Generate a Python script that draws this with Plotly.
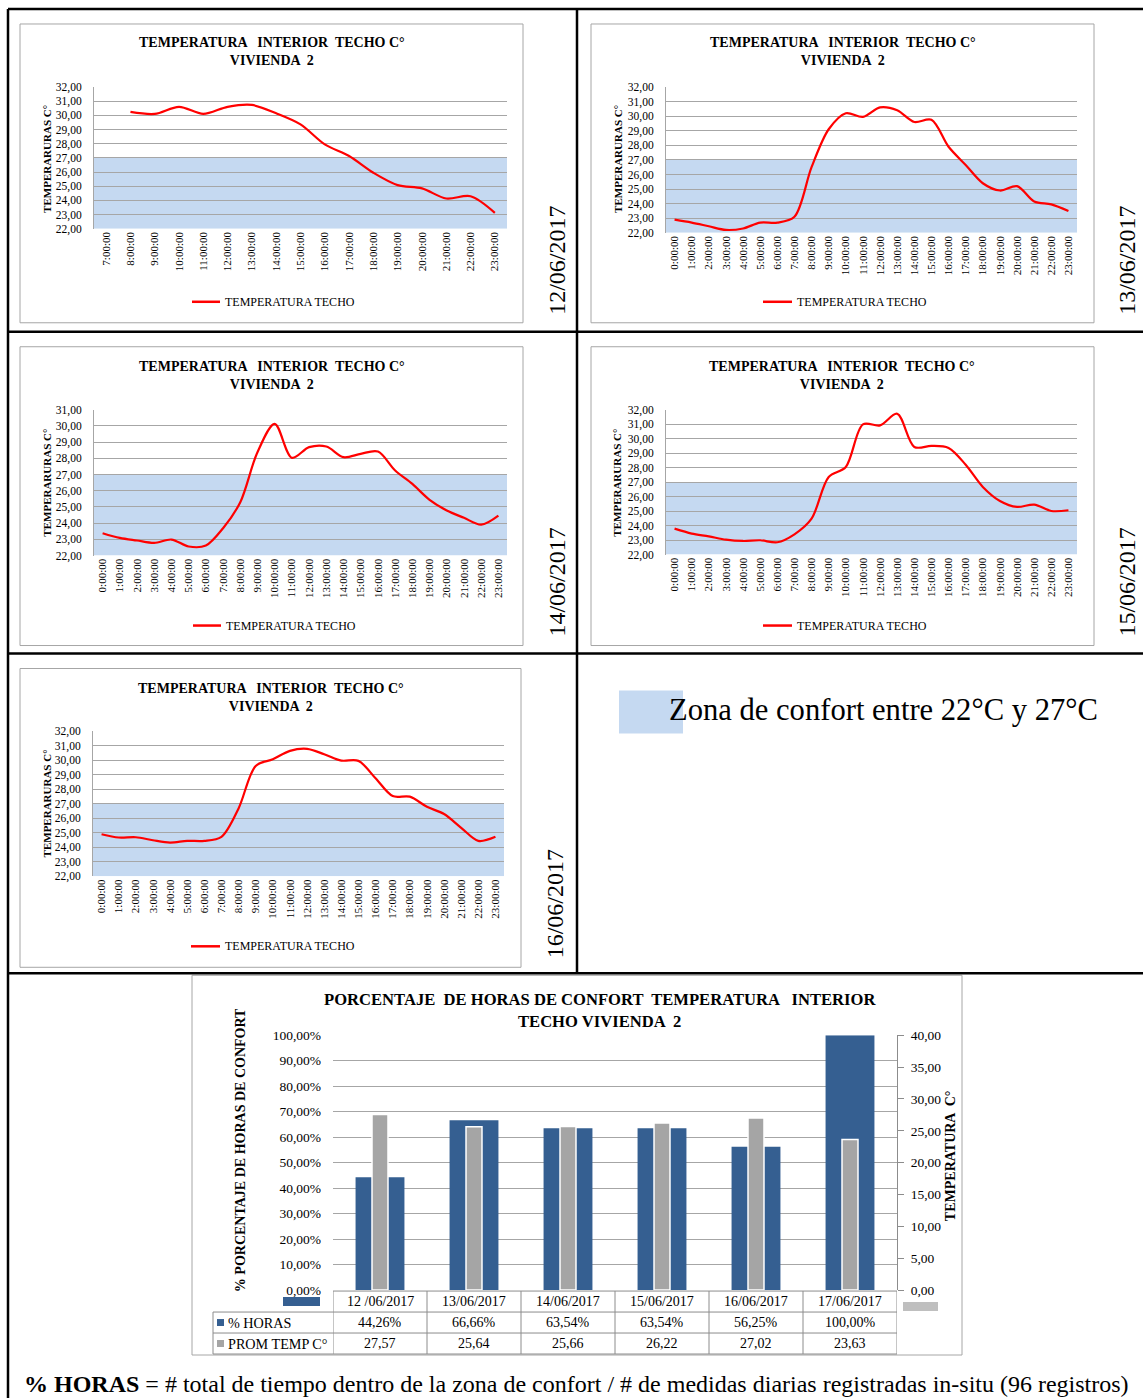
import plotly.graph_objects as go

W, H = 1143, 1398
FONT = "Liberation Serif"

# ---------------- data ----------------
HOURS_24 = ["0:00:00", "1:00:00", "2:00:00", "3:00:00", "4:00:00", "5:00:00",
            "6:00:00", "7:00:00", "8:00:00", "9:00:00", "10:00:00", "11:00:00",
            "12:00:00", "13:00:00", "14:00:00", "15:00:00", "16:00:00", "17:00:00",
            "18:00:00", "19:00:00", "20:00:00", "21:00:00", "22:00:00", "23:00:00"]
HOURS_D12 = ["7:00:00", "8:00:00", "9:00:00", "10:00:00", "11:00:00", "12:00:00",
             "13:00:00", "14:00:00", "15:00:00", "16:00:00", "17:00:00", "18:00:00",
             "19:00:00", "20:00:00", "21:00:00", "22:00:00", "23:00:00"]

TEMP_12 = [None, 30.24, 30.10, 30.60, 30.10, 30.60, 30.73, 30.14, 29.36, 27.95,
           27.13, 25.95, 25.08, 24.85, 24.14, 24.30, 23.13]
TEMP_13 = [22.90, 22.70, 22.45, 22.20, 22.30, 22.70, 22.70, 23.10, 26.50, 29.10,
           30.20, 29.95, 30.60, 30.40, 29.60, 29.75, 27.90, 26.65, 25.40, 24.90,
           25.20, 24.15, 23.95, 23.50]
TEMP_14 = [23.38, 23.09, 22.93, 22.78, 22.99, 22.56, 22.62, 23.69, 25.29, 28.38,
           30.13, 28.03, 28.69, 28.73, 28.07, 28.28, 28.42, 27.25, 26.42, 25.44,
           24.78, 24.33, 23.91, 24.47]
TEMP_15 = [23.79, 23.45, 23.26, 23.03, 22.94, 22.99, 22.85, 23.40, 24.48, 27.36,
           28.05, 30.99, 30.92, 31.72, 29.43, 29.50, 29.36, 28.20, 26.67, 25.70,
           25.29, 25.45, 25.01, 25.06]
TEMP_16 = [24.91, 24.68, 24.70, 24.49, 24.33, 24.45, 24.45, 24.73, 26.69, 29.62,
           30.08, 30.66, 30.80, 30.43, 29.99, 29.97, 28.77, 27.54, 27.50, 26.80,
           26.30, 25.35, 24.45, 24.73]

DATES = ["12/06/2017", "13/06/2017", "14/06/2017", "15/06/2017", "16/06/2017"]
COMFORT_LOW, COMFORT_HIGH = 22, 27

BAR_CATS = ["12 /06/2017", "13/06/2017", "14/06/2017", "15/06/2017", "16/06/2017", "17/06/2017"]
PCT_HORAS = [44.26, 66.66, 63.54, 63.54, 56.25, 100.00]
PROM_TEMP = [27.57, 25.64, 25.66, 26.22, 27.02, 23.63]

TITLE_LINE = "TEMPERATURA   INTERIOR  TECHO C°<br>VIVIENDA  2"
SERIES_NAME = "TEMPERATURA TECHO"
YTITLE = "TEMPERARURAS C°"

# ---------------- helpers ----------------
def px(x):
    return x / W


def py(y):
    # page pixel -> paper fraction (small vertical correction for the capture)
    return 1 - ((y - 6) / 0.99) / H


def sfx(i):
    return "" if i == 1 else str(i)


RED = "#ff0000"
ZONE = "#c5d9f1"
GRID = "#a6a6a6"
BOXC = "#a6a6a6"
BLUE = "#355f91"
GRAY = "#a5a5a5"

fig = go.Figure()
layout = dict(
    width=W, height=H, margin=dict(l=0, r=0, t=0, b=0),
    paper_bgcolor="white", plot_bgcolor="rgba(0,0,0,0)",
    showlegend=False, separators=",.",
    font=dict(family=FONT, color="black", size=12),
)
shapes, annos = [], []

charts = [
    dict(cats=HOURS_D12, data=TEMP_12, yr=[22, 32], box=(20, 23, 523, 322), plot=(94, 86, 507, 228),
         tx=272, ty=51, leg=(192, 220, 301), yt=(47, 158), date=(557, 260), label=DATES[0]),
    dict(cats=HOURS_24, data=TEMP_13, yr=[22, 32], box=(591, 23, 1094, 322), plot=(666, 86, 1077, 232),
         tx=843, ty=51, leg=(763, 792, 301), yt=(618, 158), date=(1127, 260), label=DATES[1]),
    dict(cats=HOURS_24, data=TEMP_14, yr=[22, 31], box=(20, 346, 523, 645), plot=(94, 409, 507, 555),
         tx=272, ty=375, leg=(193, 221, 625), yt=(47, 482), date=(557, 582), label=DATES[2]),
    dict(cats=HOURS_24, data=TEMP_15, yr=[22, 32], box=(591, 346, 1094, 645), plot=(666, 409, 1077, 554),
         tx=842, ty=375, leg=(763, 792, 625), yt=(617, 482), date=(1127, 582), label=DATES[3]),
    dict(cats=HOURS_24, data=TEMP_16, yr=[22, 32], box=(20, 668, 521, 967), plot=(93, 731, 504, 876),
         tx=271, ty=697, leg=(191, 220, 946), yt=(47, 803), date=(555, 904), label=DATES[4]),
]

for i, c in enumerate(charts, start=1):
    s = sfx(i)
    n = len(c["cats"])
    x0, y0, x1, y1 = c["plot"]
    fig.add_trace(go.Scatter(
        x=c["cats"], y=c["data"], mode="lines", name=SERIES_NAME,
        line=dict(color=RED, width=2.2, shape="spline", smoothing=0.9),
        xaxis="x" + s, yaxis="y" + s, connectgaps=False, hoverinfo="skip"))
    layout["xaxis" + s] = dict(
        domain=[px(x0), px(x1)], anchor="y" + s, type="category",
        categoryorder="array", categoryarray=c["cats"], range=[-0.5, n - 0.5],
        tickangle=-90, tickfont=dict(size=11, family=FONT), showgrid=False,
        showline=False, ticks="", zeroline=False, fixedrange=True)
    layout["yaxis" + s] = dict(
        domain=[py(y1), py(y0)], anchor="x" + s, range=c["yr"], dtick=1,
        tickformat=".2f", showgrid=True, gridcolor=GRID, gridwidth=1,
        showline=True, linecolor=BOXC, linewidth=1, zeroline=False, ticks="",
        ticklabelstandoff=9, tickfont=dict(size=11.5, family=FONT), fixedrange=True)
    shapes.append(dict(type="rect", xref="x" + s + " domain", yref="y" + s, x0=0, x1=1,
                       y0=COMFORT_LOW, y1=COMFORT_HIGH, fillcolor=ZONE,
                       line=dict(width=0), layer="below"))
    bx0, by0, bx1, by1 = c["box"]
    shapes.append(dict(type="rect", xref="paper", yref="paper", x0=px(bx0), x1=px(bx1),
                       y0=py(by1), y1=py(by0), line=dict(color=BOXC, width=1), layer="below"))
    annos.append(dict(xref="paper", yref="paper", x=px(c["tx"]), y=py(c["ty"]),
                      text="<b>" + TITLE_LINE + "</b>", showarrow=False,
                      font=dict(size=14, family=FONT), xanchor="center", yanchor="middle"))
    annos.append(dict(xref="paper", yref="paper", x=px(c["yt"][0]), y=py(c["yt"][1]),
                      text="<b>" + YTITLE + "</b>", textangle=-90, showarrow=False,
                      font=dict(size=11, family=FONT), xanchor="center", yanchor="middle"))
    lx0, lx1, ly = c["leg"]
    shapes.append(dict(type="line", xref="paper", yref="paper", x0=px(lx0), x1=px(lx1),
                       y0=py(ly), y1=py(ly), line=dict(color=RED, width=2.5)))
    annos.append(dict(xref="paper", yref="paper", x=px(lx1 + 3), y=py(ly),
                      text=SERIES_NAME, showarrow=False, font=dict(size=12, family=FONT),
                      xanchor="left", yanchor="middle"))
    annos.append(dict(xref="paper", yref="paper", x=px(c["date"][0]), y=py(c["date"][1]),
                      text=c["label"], textangle=-90, showarrow=False,
                      font=dict(size=24, family=FONT), xanchor="center", yanchor="middle"))

# ---------------- comfort legend ----------------
shapes.append(dict(type="rect", xref="paper", yref="paper", x0=px(619), x1=px(683),
                   y0=py(733), y1=py(690), fillcolor=ZONE, line=dict(width=0), layer="below"))
annos.append(dict(xref="paper", yref="paper", x=px(667), y=py(710),
                  text="Zona de confort entre 22°C y 27°C", showarrow=False,
                  font=dict(size=30.6, family=FONT), xanchor="left", yanchor="middle"))

# ---------------- bar chart ----------------
BX0, BX1, BY_TOP, BY_BOT = 333, 897, 1035, 1290
fig.add_trace(go.Bar(x=BAR_CATS, y=PCT_HORAS, name="% HORAS", xaxis="x6", yaxis="y6",
                     width=0.52, marker=dict(color=BLUE, line=dict(width=0)), hoverinfo="skip"))
fig.add_trace(go.Bar(x=BAR_CATS, y=PROM_TEMP, name="PROM TEMP C°", xaxis="x6", yaxis="y7",
                     width=0.17, marker=dict(color=GRAY, line=dict(color="white", width=1.5)),
                     hoverinfo="skip"))
layout["barmode"] = "overlay"
layout["xaxis6"] = dict(domain=[px(BX0), px(BX1)], anchor="y6", type="category",
                        categoryorder="array", categoryarray=BAR_CATS, range=[-0.5, 5.5],
                        showticklabels=False, showgrid=False, showline=False, ticks="",
                        zeroline=False, fixedrange=True)
layout["yaxis6"] = dict(domain=[py(BY_BOT), py(BY_TOP)], anchor="x6", range=[0, 100], dtick=10,
                        tickformat=".2f", ticksuffix="%", showgrid=True, gridcolor=GRID,
                        gridwidth=1, showline=False, zeroline=False, ticks="",
                        ticklabelstandoff=11, tickfont=dict(size=13.5, family=FONT),
                        fixedrange=True)
layout["yaxis7"] = dict(overlaying="y6", anchor="x6", side="right", range=[0, 40], dtick=5,
                        tickformat=".2f", showgrid=False, showline=True, linecolor="#8c8c8c",
                        linewidth=1, ticks="outside", ticklen=6, tickcolor="#8c8c8c",
                        zeroline=False, ticklabelstandoff=4,
                        tickfont=dict(size=13.5, family=FONT), fixedrange=True)

shapes.append(dict(type="rect", xref="paper", yref="paper", x0=px(192), x1=px(962),
                   y0=py(1355), y1=py(975), line=dict(color=BOXC, width=1), layer="below"))
annos.append(dict(xref="paper", yref="paper", x=px(600), y=py(1010),
                  text="<b>PORCENTAJE  DE HORAS DE CONFORT  TEMPERATURA   INTERIOR<br>TECHO VIVIENDA  2</b>",
                  showarrow=False, font=dict(size=16.6, family=FONT), xanchor="center",
                  yanchor="middle"))
annos.append(dict(xref="paper", yref="paper", x=px(240), y=py(1150),
                  text="<b>% PORCENTAJE DE HORAS DE CONFORT</b>", textangle=-90,
                  showarrow=False, font=dict(size=14, family=FONT), xanchor="center",
                  yanchor="middle"))
annos.append(dict(xref="paper", yref="paper", x=px(950), y=py(1156),
                  text="<b>TEMPERATURA  C°</b>", textangle=-90,
                  showarrow=False, font=dict(size=14, family=FONT), xanchor="center",
                  yanchor="middle"))

TCOL = "#8c8c8c"
ROW_T, ROW1, ROW2, ROW_B = 1291, 1312, 1333, 1354
for yy, xl in [(ROW_T, BX0), (ROW1, 213), (ROW2, 213), (ROW_B, 213)]:
    shapes.append(dict(type="line", xref="paper", yref="paper", x0=px(xl), x1=px(BX1),
                       y0=py(yy), y1=py(yy), line=dict(color=TCOL, width=1)))
shapes.append(dict(type="line", xref="paper", yref="paper", x0=px(213), x1=px(213),
                   y0=py(ROW1), y1=py(ROW_B), line=dict(color=TCOL, width=1)))
for k in range(len(BAR_CATS) + 1):
    shapes.append(dict(type="line", xref="x6", yref="paper", x0=k - 0.5, x1=k - 0.5,
                       y0=py(ROW_T), y1=py(ROW_B), line=dict(color=TCOL, width=1)))
for cat, v1, v2 in zip(BAR_CATS, PCT_HORAS, PROM_TEMP):
    annos.append(dict(xref="x6", yref="paper", x=cat, y=py((ROW_T + ROW1) / 2), text=cat,
                      showarrow=False, font=dict(size=14, family=FONT), yanchor="middle"))
    annos.append(dict(xref="x6", yref="paper", x=cat, y=py((ROW1 + ROW2) / 2),
                      text=f"{v1:.2f}".replace(".", ",") + "%", showarrow=False,
                      font=dict(size=14, family=FONT), yanchor="middle"))
    annos.append(dict(xref="x6", yref="paper", x=cat, y=py((ROW2 + ROW_B) / 2),
                      text=f"{v2:.2f}".replace(".", ","), showarrow=False,
                      font=dict(size=14, family=FONT), yanchor="middle"))
for (yc, col, name) in [((ROW1 + ROW2) / 2, BLUE, "% HORAS"), ((ROW2 + ROW_B) / 2, GRAY, "PROM TEMP C°")]:
    shapes.append(dict(type="rect", xref="paper", yref="paper", x0=px(217), x1=px(224),
                       y0=py(yc + 3.5), y1=py(yc - 3.5), fillcolor=col, line=dict(width=0)))
    annos.append(dict(xref="paper", yref="paper", x=px(226), y=py(yc), text=name,
                      showarrow=False, font=dict(size=14.2, family=FONT), xanchor="left",
                      yanchor="middle"))
shapes.append(dict(type="rect", xref="paper", yref="paper", x0=px(283), x1=px(320),
                   y0=py(1306), y1=py(1297), fillcolor=BLUE, line=dict(width=0)))
shapes.append(dict(type="rect", xref="paper", yref="paper", x0=px(903), x1=px(938),
                   y0=py(1311), y1=py(1302), fillcolor="#bfbfbf", line=dict(width=0)))

annos.append(dict(xref="paper", yref="paper", x=px(22), y=py(1384),
                  text="<b>% HORAS</b> = # total de tiempo dentro de la zona de confort / "
                       "# de medidas diarias registradas in-situ (96 registros)",
                  showarrow=False, font=dict(size=24, family=FONT), xanchor="left",
                  yanchor="middle"))

BLK = dict(color="black", width=2.5)
for (a, b, c2, d) in [(8, 8, 1143, 8), (8, 331, 1143, 331), (8, 653, 1143, 653),
                      (8, 973, 1143, 973), (8, 8, 8, 1410), (577, 8, 577, 973)]:
    shapes.append(dict(type="line", xref="paper", yref="paper", x0=px(a), x1=px(c2),
                       y0=py(b), y1=py(d), line=BLK))

layout["shapes"] = shapes
layout["annotations"] = annos
fig.update_layout(**layout)
POST = ("document.documentElement.style.margin='0';document.documentElement.style.padding='0';"
        "document.body.style.margin='0';document.body.style.padding='0';"
        "var g=document.getElementById('{plot_id}');g.style.position='absolute';"
        "g.style.top='0px';g.style.left='0px';")
fig.write_html("out.html", config={"displayModeBar": False}, post_script=POST)
